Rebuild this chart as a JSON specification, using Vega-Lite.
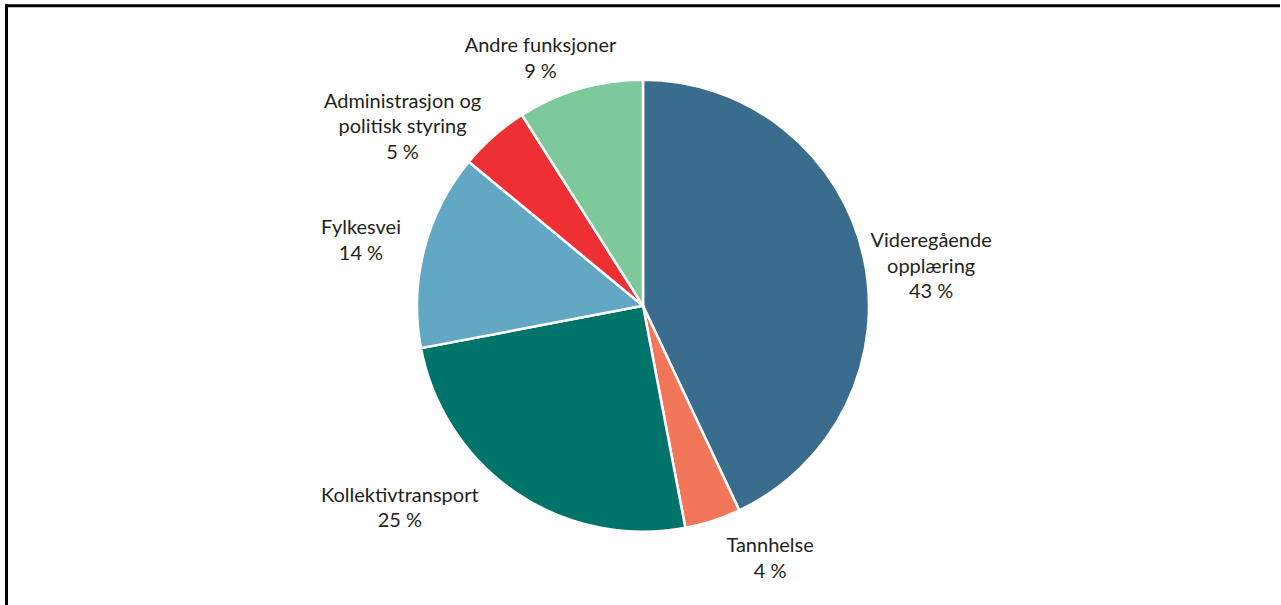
{
  "$schema": "https://vega.github.io/schema/vega-lite/v6.json",
  "width": 1274,
  "height": 601,
  "autosize": {"type": "none"},
  "padding": {"left": 6, "top": 5.3, "right": 0, "bottom": 0},
  "background": "white",
  "config": {"view": {"stroke": null}},
  "data": {
    "values": [
      {"category": "Videregående\nopplæring", "value": 43},
      {"category": "Tannhelse", "value": 4},
      {"category": "Kollektivtransport", "value": 25},
      {"category": "Fylkesvei", "value": 14},
      {"category": "Administrasjon og\npolitisk styring", "value": 5},
      {"category": "Andre funksjoner", "value": 9}
    ]
  },
  "transform": [
    {"window": [{"op": "row_number", "as": "rank"}]},
    {"calculate": "datum.category + '\\n' + datum.value + ' %'", "as": "label"}
  ],
  "layer": [
    {
      "mark": {"type": "arc", "outerRadius": 226, "stroke": "white", "strokeWidth": 2.5},
      "encoding": {
        "theta": {"field": "value", "type": "quantitative", "stack": true},
        "order": {"field": "rank", "type": "quantitative"},
        "color": {
          "field": "category",
          "type": "nominal",
          "legend": null,
          "scale": {
            "domain": ["Videregående\nopplæring", "Tannhelse", "Kollektivtransport", "Fylkesvei", "Administrasjon og\npolitisk styring", "Andre funksjoner"],
            "range": ["#3a6c8e", "#f2775a", "#00736b", "#62a8c4", "#ee3034", "#7dc99b"]
          }
        },
        "x": {
          "datum": 0.5, "type": "quantitative",
          "scale": {"domain": [0, 1]},
          "axis": {"orient": "top", "domainColor": "#000000", "domainWidth": 3, "domainCap": "square", "ticks": false, "labels": false, "title": null, "grid": false}
        },
        "y": {
          "datum": 0.5, "type": "quantitative",
          "scale": {"domain": [0, 1]},
          "axis": {"orient": "left", "domainColor": "#000000", "domainWidth": 3, "domainCap": "square", "ticks": false, "labels": false, "title": null, "grid": false}
        }
      }
    },
    {
      "mark": {
        "type": "text",
        "radius": 285,
        "font": "Lato",
        "fontSize": 20,
        "lineBreak": "\n",
        "lineHeight": 25.5,
        "align": "center",
        "baseline": "middle",
        "fill": "#231f20",
        "dx": {"expr": "datum.value == 43 ? 10 : datum.value == 4 ? 39 : datum.value == 25 ? -83 : datum.value == 14 ? -6 : datum.value == 5 ? -52 : -23"},
        "dy": {"expr": "datum.value == 43 ? -2.5 : datum.value == 4 ? -30.75 : datum.value == 25 ? -45.75 : datum.value == 14 ? -6.75 : datum.value == 5 ? 9.5 : 14.25"}
      },
      "encoding": {
        "theta": {"field": "value", "type": "quantitative", "stack": true},
        "order": {"field": "rank", "type": "quantitative"},
        "detail": {"field": "category", "type": "nominal"},
        "text": {"field": "label", "type": "nominal"}
      }
    }
  ]
}
